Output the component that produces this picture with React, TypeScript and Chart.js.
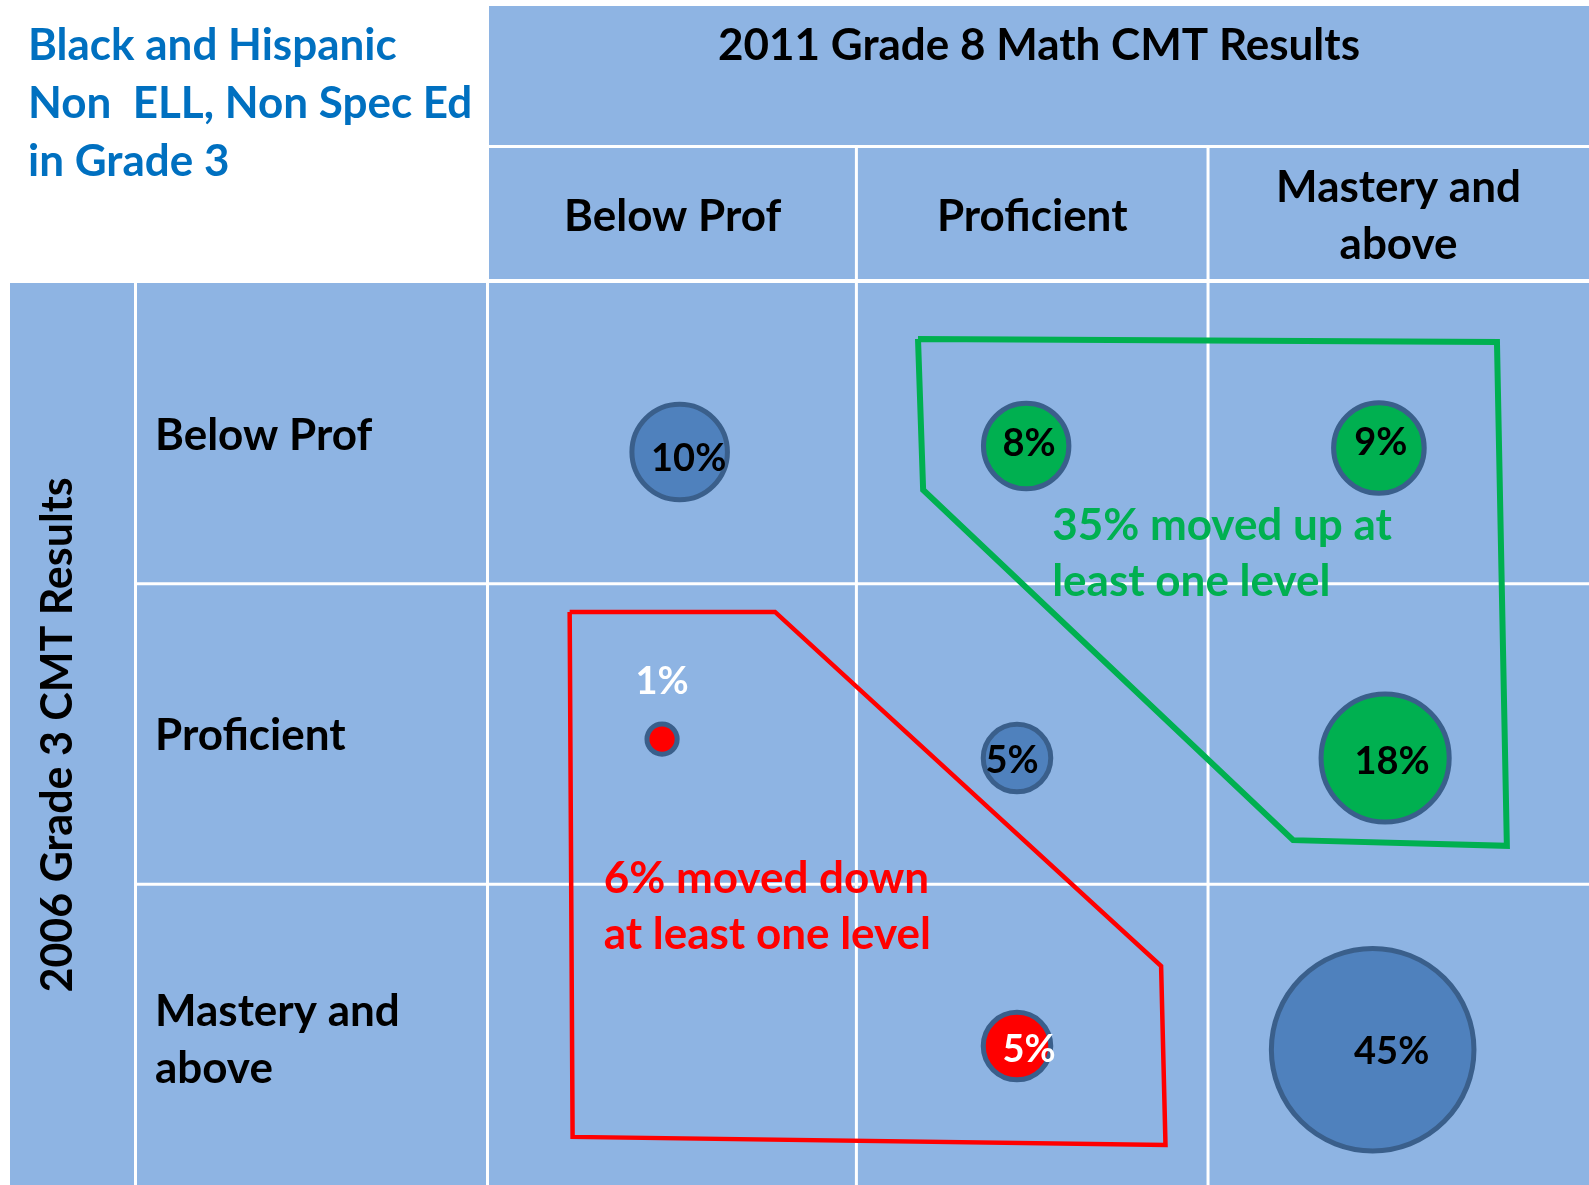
import React, { useEffect, useRef } from "react";
import { Chart, registerables } from "chart.js";

Chart.register(...registerables);

// ---------- data ----------
const levels2011 = ["Below Prof", "Proficient", "Mastery and above"];
const levels2006 = ["Below Prof", "Proficient", "Mastery and above"];
const titleLines = ["Black and Hispanic", "Non  ELL, Non Spec Ed", "in Grade 3"];
const headerTitle = "2011 Grade 8 Math CMT Results";
const sideTitle = "2006 Grade 3 CMT Results";

// bubble cells (x = 2011 level position, y = 2006 level position, value = % of students)
const bubbleValues = [10, 8, 9, 1, 5, 18, 5, 45];
const bubbleX = [1.02, 1.965, 2.927, 0.972, 1.94, 2.944, 1.94, 2.91];
const bubbleY = [1.062, 1.042, 1.049, 2.017, 2.08, 2.08, 3.038, 3.05];
const bubbleGroup = ["same", "up", "up", "down", "same", "up", "down", "same"];

// grid boundaries (level units)
const colEdges = [0.5, 1.502, 2.461, 3.5];
const rowEdges = [0.5, 1.5, 2.5, 3.5];

// outlines
const upPolygonX = [1.67, 3.249, 3.276, 2.693, 1.684, 1.67];
const upPolygonY = [0.686, 0.696, 2.372, 2.353, 1.188, 0.686];
const downPolygonX = [0.72, 1.28, 2.333, 2.345, 0.728, 0.72];
const downPolygonY = [1.594, 1.594, 2.772, 3.367, 3.34, 1.594];

const upNoteLines = ["35% moved up at", "least one level"];
const downNoteLines = ["6% moved down", "at least one level"];

// ---------- styles ----------
const FONT = "Lato, 'Open Sans', sans-serif";
const TEXT_SIZE = 44;
const CELL_BLUE = "#8EB4E3";
const GROUP_FILL: Record<string, string> = { same: "#4F81BD", up: "#00B050", down: "#FF0000" };
const BUBBLE_BORDER = "#3A5F8B";
const labelOffsets = [
  [9, 7], [3, -2], [2, -5], [0, -57], [-5, 3], [7, 4], [12, 4], [19, 2],
];
const labelColors = ["#000", "#000", "#000", "#fff", "#000", "#000", "#fff", "#000"];

const W = 1589;
const H = 1185;

const splitLabel = (s: string) => (s === "Mastery and above" ? ["Mastery and", "above"] : [s]);

const tablePlugin = {
  id: "tableBg",
  beforeDraw(chart: any) {
    const { ctx, scales, width, height, chartArea } = chart;
    const x = scales.x, y = scales.y;
    const cx = colEdges.map((v) => x.getPixelForValue(v));
    const ry = rowEdges.map((v) => y.getPixelForValue(v));
    const top = chartArea.top;
    ctx.save();
    ctx.fillStyle = "#fff";
    ctx.fillRect(0, 0, width, height);
    ctx.fillStyle = CELL_BLUE;
    ctx.fillRect(cx[0], 6, width - cx[0], top - 4 - 6);
    ctx.fillRect(10, top, width - 10, height - top);
    ctx.strokeStyle = "#fff";
    ctx.lineWidth = 3;
    const line = (x1: number, y1: number, x2: number, y2: number) => {
      ctx.beginPath();
      ctx.moveTo(x1, y1);
      ctx.lineTo(x2, y2);
      ctx.stroke();
    };
    line(cx[0], 146.5, width, 146.5);
    line(cx[1], 146, cx[1], height);
    line(cx[2], 146, cx[2], height);
    line(135.5, top, 135.5, height);
    line(cx[0] - 1.5, top, cx[0] - 1.5, height);
    line(135, ry[1], width, ry[1]);
    line(135, ry[2], width, ry[2]);

    // texts
    ctx.textBaseline = "middle";
    ctx.fillStyle = "#0070C0";
    ctx.font = `bold ${TEXT_SIZE}px ${FONT}`;
    ctx.textAlign = "left";
    titleLines.forEach((t, i) => ctx.fillText(t, 28, 46 + i * 58));

    ctx.fillStyle = "#000";
    ctx.textAlign = "center";
    ctx.fillText(headerTitle, (cx[0] + width) / 2, 46);
    levels2011.forEach((lab, i) => {
      const lines = splitLabel(lab);
      const mx = (cx[i] + cx[i + 1]) / 2;
      const my = (148 + top - 4) / 2 + 3;
      lines.forEach((l, j) => ctx.fillText(l, mx, my + (j - (lines.length - 1) / 2) * 57));
    });
    ctx.textAlign = "left";
    levels2006.forEach((lab, i) => {
      const lines = splitLabel(lab);
      const my = (ry[i] + ry[i + 1]) / 2 + (lines.length > 1 ? 6 : 2);
      lines.forEach((l, j) => ctx.fillText(l, 155, my + (j - (lines.length - 1) / 2) * 57));
    });
    ctx.save();
    ctx.translate(58, (top + height) / 2 + 1);
    ctx.rotate(-Math.PI / 2);
    ctx.textAlign = "center";
    ctx.font = `bold 43px ${FONT}`;
    ctx.fillText(sideTitle, 0, 0);
    ctx.restore();
    ctx.restore();
  },
  afterDatasetsDraw(chart: any) {
    const { ctx, scales } = chart;
    const x = scales.x;
    ctx.save();
    ctx.textBaseline = "middle";
    // notes
    ctx.font = `bold ${TEXT_SIZE}px ${FONT}`;
    ctx.textAlign = "left";
    ctx.fillStyle = "#00B050";
    const ux = x.getPixelForValue(upPolygonX[4]) + 129;
    upNoteLines.forEach((t, i) => ctx.fillText(t, ux, 526 + i * 56));
    ctx.fillStyle = "#FF0000";
    const dx = x.getPixelForValue(downPolygonX[0]) + 34;
    downNoteLines.forEach((t, i) => ctx.fillText(t, dx, 879 + i * 56));
    // bubble labels
    const meta = chart.getDatasetMeta(2);
    ctx.textAlign = "center";
    ctx.font = `bold 38px ${FONT}`;
    meta.data.forEach((el: any, i: number) => {
      ctx.fillStyle = labelColors[i];
      ctx.fillText(`${bubbleValues[i]}%`, el.x + labelOffsets[i][0], el.y + labelOffsets[i][1]);
    });
    ctx.restore();
  },
};

export default function App() {
  const ref = useRef<HTMLCanvasElement>(null);
  useEffect(() => {
    if (!ref.current) return;
    const chart = new Chart(ref.current, {
      type: "bubble",
      data: {
        datasets: [
          {
            type: "scatter",
            label: "moved up",
            data: upPolygonX.map((v, i) => ({ x: v, y: upPolygonY[i] })),
            showLine: true,
            borderColor: "#00B050",
            borderWidth: 6,
            pointRadius: 0,
            fill: false,
            borderJoinStyle: "miter",
            order: 2,
          } as any,
          {
            type: "scatter",
            label: "moved down",
            data: downPolygonX.map((v, i) => ({ x: v, y: downPolygonY[i] })),
            showLine: true,
            borderColor: "#FF0000",
            borderWidth: 4.5,
            pointRadius: 0,
            fill: false,
            borderJoinStyle: "miter",
            order: 3,
          } as any,
          {
            type: "bubble",
            label: "share",
            data: bubbleValues.map((v, i) => ({ x: bubbleX[i], y: bubbleY[i], r: 15.1 * Math.sqrt(v) })),
            backgroundColor: bubbleGroup.map((g) => GROUP_FILL[g]),
            borderColor: BUBBLE_BORDER,
            borderWidth: 5,
            order: 1,
          } as any,
        ],
      },
      options: {
        responsive: false,
        animation: false,
        devicePixelRatio: 1,
        layout: { autoPadding: false, padding: { left: 489, top: 283, right: 0, bottom: 0 } },
        scales: {
          x: { type: "linear", min: 0.5, max: 3.5, display: false },
          y: { type: "linear", min: 0.5, max: 3.5, reverse: true, display: false },
        },
        plugins: { legend: { display: false }, tooltip: { enabled: false } },
        events: [],
      },
      plugins: [tablePlugin],
    });
    return () => chart.destroy();
  }, []);
  return (
    <div style={{ position: "fixed", left: 0, top: 0, width: W, height: H }}>
      <canvas ref={ref} width={W} height={H} style={{ display: "block" }} />
    </div>
  );
}
